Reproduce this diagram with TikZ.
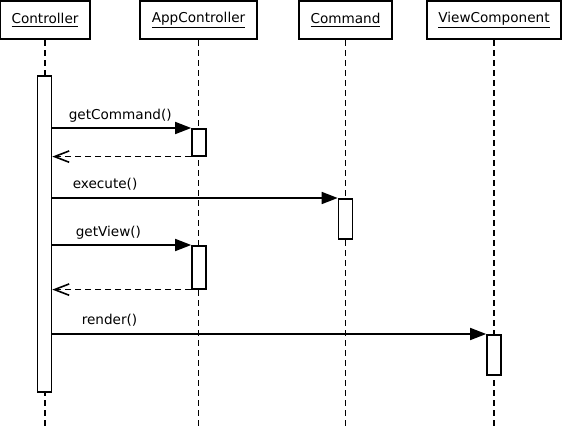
\documentclass[tikz,border=0pt]{standalone}
\usepackage{fontspec}
\setmainfont{DejaVu Sans}
\usetikzlibrary{arrows.meta,positioning}

\tikzset{every picture/.style={line width=1.2pt}}
\tikzset{
  objbox/.style={draw, line width=1.5pt, minimum height=28.5pt, inner sep=0pt, font=\fontsize{10.2}{12}\selectfont},
  actbar/.style={draw, fill=white, line width=1.2pt, minimum width=10.5pt, inner sep=0pt, anchor=north},
  lifeline/.style={dash pattern=on 4.5pt off 3pt},
  callmsg/.style={-{Triangle[length=12pt,width=9pt]}},
  retmsg/.style={dash pattern=on 4.5pt off 3pt, -{Straight Barb[length=11pt,width=8.5pt]}},
  msglabel/.style={anchor=base west, inner sep=0pt, font=\fontsize{10.2}{12}\selectfont}
}

\begin{document}
\begin{tikzpicture}[x=0.75pt,y=0.75pt,yscale=-1,xscale=1]
\useasboundingbox (0,0) rectangle (562,432);

% Object boxes
\node [objbox, minimum width=67.5pt] (ctrl) at (45,20) {\underline{Controller}};
\node [objbox, minimum width=87.75pt] (appctrl) at (198.5,20) {\underline{AppController}};
\node [objbox, minimum width=69.75pt] (cmd) at (345.5,20) {\underline{Command}};
\node [objbox, minimum width=100.5pt] (view) at (494,20) {\underline{ViewComponent}};

% Lifeline ends
\coordinate (ctrlEnd) at (45,428);
\coordinate (appctrlEnd) at (198.5,428);
\coordinate (cmdEnd) at (345.5,428);
\coordinate (viewEnd) at (494,428);

% Lifelines
\draw [lifeline] (ctrl.south) -- (ctrlEnd);
\draw [lifeline] (appctrl.south) -- (appctrlEnd);
\draw [lifeline] (cmd.south) -- (cmdEnd);
\draw [lifeline] (view.south) -- (viewEnd);

% Activation bars
\node [actbar, minimum height=237pt] (ctrlAct) at (44.5,75) {};
\node [actbar, minimum height=20.25pt] (appAct1) at (199,128) {};
\node [actbar, minimum height=30pt] (cmdAct) at (345.5,198) {};
\node [actbar, minimum height=32.25pt] (appAct2) at (199,245) {};
\node [actbar, minimum height=30pt] (viewAct) at (494,334) {};

% Messages
\draw [callmsg] (ctrlAct.east |- appAct1.north) -- (appAct1.north west);
\draw [retmsg] (appAct1.south west) -- (ctrlAct.east |- appAct1.south);
\draw [callmsg] (ctrlAct.east |- cmdAct.north) -- (cmdAct.north west);
\draw [callmsg] (ctrlAct.east |- appAct2.north) -- (appAct2.north west);
\draw [retmsg] (appAct2.south west) -- (ctrlAct.east |- appAct2.south);
\draw [callmsg] (ctrlAct.east |- viewAct.north) -- (viewAct.north west);

% Text Node
\node [msglabel] (lblGetCommand) at (68,119) {getCommand()};
% Text Node
\node [msglabel] (lblExecute) at (72,189) {execute()};
% Text Node
\node [msglabel] (lblGetView) at (75,236) {getView()};
% Text Node
\node [msglabel] (lblRender) at (81,325) {render()};

\end{tikzpicture}
\end{document}
